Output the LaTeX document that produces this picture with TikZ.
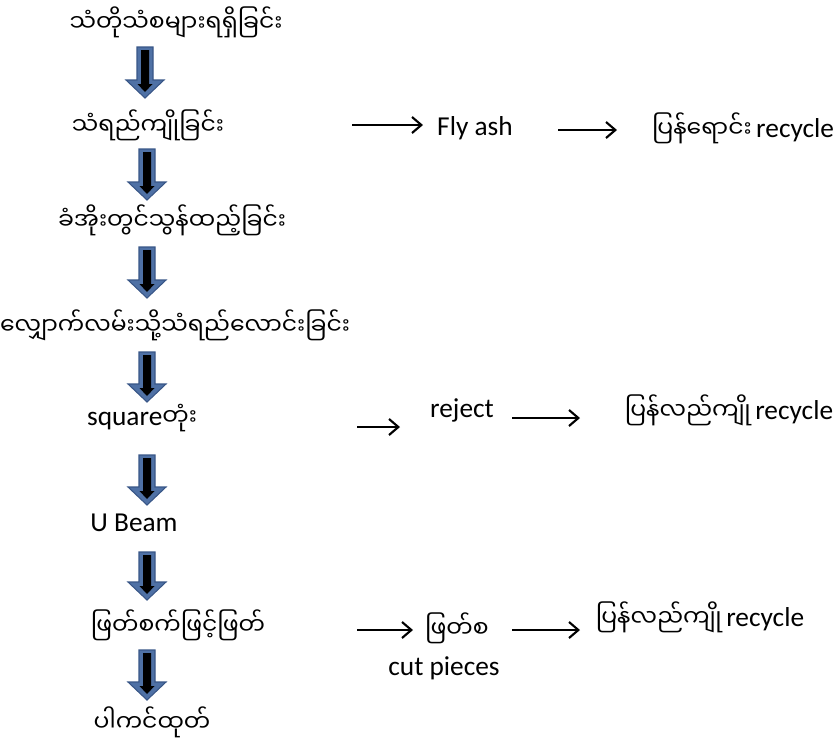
\documentclass[tikz,border=0pt]{standalone}
\usepackage{fontspec}
\setmainfont{Carlito}
\newfontfamily\my[Script=Myanmar,Scale=0.86]{Noto Sans Myanmar UI}
\usetikzlibrary{arrows.meta,calc}
\definecolor{arrowblue}{RGB}{79,113,165}
\definecolor{arrowedge}{RGB}{56,86,135}
\begin{document}
\begin{tikzpicture}[x=0.75pt,y=-0.75pt,
  lbl/.style={inner sep=0pt, font=\fontsize{20.5}{23}\selectfont},
  thinarrow/.style={draw=black, line width=1.6pt, -{Straight Barb[length=7pt,width=12pt,line width=1.6pt]}}]
\path[use as bounding box] (0,0) rectangle (838,744);
\newcommand{\blockarrow}[2]{%
  \filldraw[fill=arrowblue, draw=arrowedge, line width=0.8pt]
    ($(#1)+(-8,0)$) -- ($(#1)+(8,0)$) -- ($(#2)+(8,-18)$) -- ($(#2)+(19,-18)$) --
    (#2) -- ($(#2)+(-19,-18)$) -- ($(#2)+(-8,-18)$) -- cycle;
  \fill[black] ($(#1)+(-4,3)$) -- ($(#1)+(4,3)$) -- ($(#2)+(4,-14)$) -- ($(#2)+(7.5,-14)$) --
    ($(#2)+(0,-6)$) -- ($(#2)+(-7.5,-14)$) -- ($(#2)+(-4,-14)$) -- cycle;}
% left column labels
\node[lbl] (n1) at (176,22) {\my သံတိုသံစများရရှိခြင်း};
\node[lbl] (n2) at (148,125) {\my သံရည်ကျိုခြင်း};
\node[lbl] (n3) at (172,220) {\my ခံအိုးတွင်သွန်ထည့်ခြင်း};
\node[lbl] (n4) at (175,325) {\my လျှောက်လမ်းသို့သံရည်လောင်းခြင်း};
\node[lbl] (n5) at (142,418) {square{\my တုံး}};
\node[lbl] (n6) at (134,523) {U Beam};
\node[lbl] (n7) at (178,625) {\my ဖြတ်စက်ဖြင့်ဖြတ်};
\node[lbl] (n8) at (152,722) {\my ပါကင်ထုတ်};
% right side labels
\node[lbl] (fly) at (475,128) {Fly ash};
\node[lbl] (rec1) at (743,128) {{\my ပြန်ရောင်း}\,recycle};
\node[lbl] (rej) at (462,410) {reject};
\node[lbl] (rec2) at (729,410) {{\my ပြန်လည်ကျို}\,recycle};
\node[lbl] (ft) at (457,628) {\my ဖြတ်စ};
\node[lbl] (cut) at (444,668) {cut pieces};
\node[lbl] (rec3) at (700,617) {{\my ပြန်လည်ကျို}\,recycle};
% block arrow ends
\coordinate (t1) at (145,47);  \coordinate (b1) at (145,98);
\coordinate (t2) at (147,149); \coordinate (b2) at (147,200);
\coordinate (t3) at (147,247); \coordinate (b3) at (147,298);
\coordinate (t4) at (147,352); \coordinate (b4) at (147,402);
\coordinate (t5) at (147,455); \coordinate (b5) at (147,505);
\coordinate (t6) at (147,552); \coordinate (b6) at (147,600);
\coordinate (t7) at (147,650); \coordinate (b7) at (147,700);
\blockarrow{t1}{b1}
\blockarrow{t2}{b2}
\blockarrow{t3}{b3}
\blockarrow{t4}{b4}
\blockarrow{t5}{b5}
\blockarrow{t6}{b6}
\blockarrow{t7}{b7}
% thin arrows
\coordinate (s1) at (352,125); \coordinate (e1) at (423,125);
\coordinate (s2) at (558,130); \coordinate (e2) at (617,130);
\coordinate (s3) at (357,427); \coordinate (e3) at (400,427);
\coordinate (s4) at (512,418); \coordinate (e4) at (580,418);
\coordinate (s5) at (357,630); \coordinate (e5) at (413,630);
\coordinate (s6) at (512,630); \coordinate (e6) at (580,630);
\draw[thinarrow] (s1) -- (e1);
\draw[thinarrow] (s2) -- (e2);
\draw[thinarrow] (s3) -- (e3);
\draw[thinarrow] (s4) -- (e4);
\draw[thinarrow] (s5) -- (e5);
\draw[thinarrow] (s6) -- (e6);
\end{tikzpicture}
\end{document}
